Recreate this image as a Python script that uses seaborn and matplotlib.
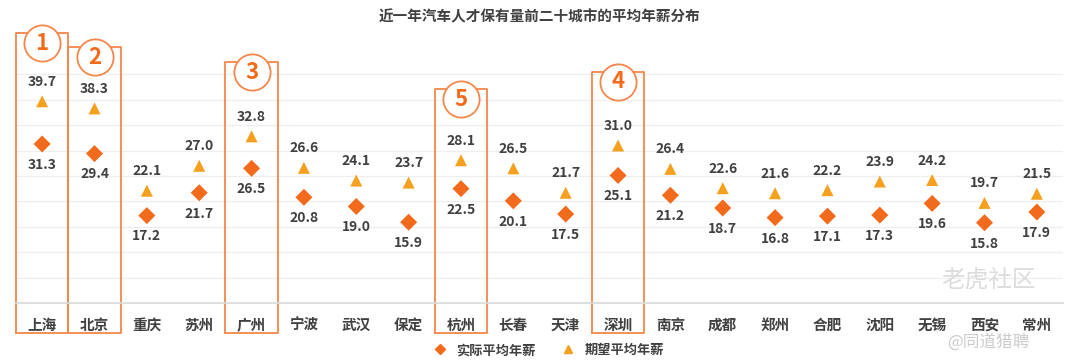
"""
Average annual salary of the top 20 cities by automotive talent
"""

# %% ---- Requirements and constants ------------------------
import matplotlib.pyplot as plt
from matplotlib.lines import Line2D
import seaborn as sns
import pandas as pd

cities = ['上海', '北京', '重庆', '苏州', '广州', '宁波', '武汉', '保定', '杭州', '长春',
          '天津', '深圳', '南京', '成都', '郑州', '合肥', '沈阳', '无锡', '西安', '常州']
actual = [31.3, 29.4, 17.2, 21.7, 26.5, 20.8, 19.0, 15.9, 22.5, 20.1,
          17.5, 25.1, 21.2, 18.7, 16.8, 17.1, 17.3, 19.6, 15.8, 17.9]
expected = [39.7, 38.3, 22.1, 27.0, 32.8, 26.6, 24.1, 23.7, 28.1, 26.5,
            21.7, 31.0, 26.4, 22.6, 21.6, 22.2, 23.9, 24.2, 19.7, 21.5]

# highlighted cities, their rank and the top of their box
highlight_city = ['上海', '北京', '广州', '深圳', '杭州']
highlight_rank = [1, 2, 3, 4, 5]
highlight_top = [53.1, 50.4, 47.4, 45.5, 42.1]

title = '近一年汽车人才保有量前二十城市的平均年薪分布'
ACTUAL_C = '#F26A1B'
EXPECT_C = '#F5A11F'
BOX_C = '#F4874B'
TEXT_C = '#404040'

# %% ---- Data ------------------------
df = pd.DataFrame({'city': cities * 2,
                   'value': actual + expected,
                   'series': ['实际平均年薪'] * 20 + ['期望平均年薪'] * 20})

# %% ---- Plot ------------------------
sns.set_theme(style='white')
plt.rcParams['font.family'] = ['Noto Sans CJK SC', 'DejaVu Sans']

fig = plt.figure(figsize=(10.8, 3.62), dpi=100)
ax = fig.add_axes([0.0148, 0.163, 0.9695, 0.772])

sns.scatterplot(data=df, x='city', y='value', hue='series', style='series',
                markers={'实际平均年薪': 'D', '期望平均年薪': '^'},
                palette={'实际平均年薪': ACTUAL_C, '期望平均年薪': EXPECT_C},
                s=75, linewidth=0, legend=False, ax=ax, zorder=3)

ax.set_xlim(-0.5, len(cities) - 0.5)
ax.set_ylim(0, 55)
ax.set_xlabel('')
ax.set_ylabel('')
ax.set_yticks([])
for v in range(5, 50, 5):
    ax.axhline(v, color='#eeeeee', lw=0.9, zorder=0)

for s in ['top', 'right', 'left']:
    ax.spines[s].set_visible(False)
ax.spines['bottom'].set_color('#d9d9d9')

ax.set_xticks(range(len(cities)))
ax.set_xticklabels(cities, fontsize=10.5, color=TEXT_C, fontweight='bold')
ax.tick_params(axis='x', which='major', length=0, pad=10)
ax.set_xticks([i - 0.5 for i in range(len(cities) + 1)], minor=True)
ax.tick_params(axis='x', which='minor', length=5, color='#d9d9d9', width=0.8)

# value labels
for i, (a, e) in enumerate(zip(actual, expected)):
    ax.annotate(f'{e:.1f}', (i, e), xytext=(0, 9), textcoords='offset points',
                ha='center', va='bottom', fontsize=10, fontweight='bold', color=TEXT_C)
    ax.annotate(f'{a:.1f}', (i, a), xytext=(0, -10), textcoords='offset points',
                ha='center', va='top', fontsize=10, fontweight='bold', color=TEXT_C)

# highlight boxes with rank circles
for city, rank, top in zip(highlight_city, highlight_rank, highlight_top):
    i = cities.index(city)
    ax.plot([i - 0.5, i - 0.5, i + 0.5, i + 0.5, i - 0.5],
            [-5.9, top, top, -5.9, -5.9], color=BOX_C, lw=1.3,
            clip_on=False, zorder=2)
    ax.scatter([i], [top - 2], s=680, marker='o', facecolor='white',
               edgecolor=BOX_C, linewidth=1.3, clip_on=False, zorder=4)
    ax.text(i, top - 2, str(rank), ha='center', va='center', fontsize=16,
            fontweight='bold', color=ACTUAL_C, zorder=5)

fig.text(0.5, 0.955, title, ha='center', va='center', fontsize=10.5,
         fontweight='bold', color=TEXT_C)

handles = [Line2D([], [], marker='D', color=ACTUAL_C, ls='', markersize=5),
           Line2D([], [], marker='^', color=EXPECT_C, ls='', markersize=6)]
leg = fig.legend(handles, ['实际平均年薪', '期望平均年薪'], loc='center',
                 bbox_to_anchor=(0.505, 0.033), ncol=2, frameon=False,
                 handletextpad=0.2, columnspacing=1.5,
                 prop={'weight': 'bold', 'size': 9.5})
for t in leg.get_texts():
    t.set_color(TEXT_C)

# watermark
fig.text(0.915, 0.225, '老虎社区', ha='center', va='center', fontsize=17,
         color='#dcdcdc', zorder=1)
fig.text(0.915, 0.055, '@同道猎聘', ha='center', va='center', fontsize=12,
         color='#cccccc')

fig.savefig('out.png', dpi=100)
